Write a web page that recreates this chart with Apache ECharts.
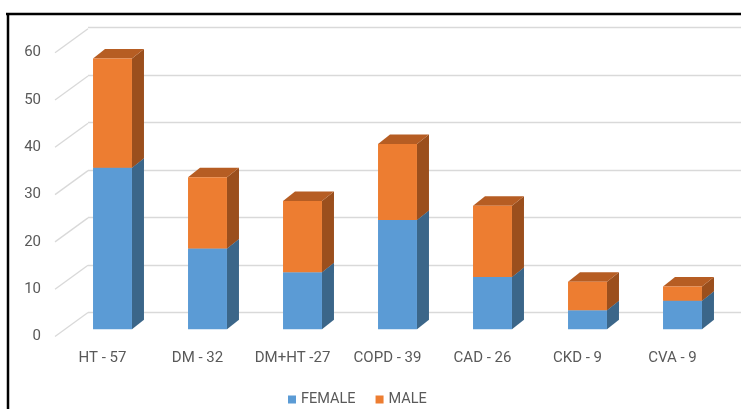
<!DOCTYPE html>
<html>
<head>
<meta charset="utf-8">
<script src="https://cdn.jsdelivr.net/npm/echarts@6/dist/echarts.min.js"></script>
<style>
  html, body { margin: 0; padding: 0; background: #ffffff; }
  #chart { width: 741px; height: 409px; }
</style>
</head>
<body>
<div id="chart"></div>
<script>
// Patient counts per comorbidity, split by sex
const categories = ['HT - 57', 'DM - 32', 'DM+HT -27', 'COPD - 39', 'CAD - 26', 'CKD - 9', 'CVA - 9'];
const female = [34, 17, 12, 23, 11, 4, 6];
const male = [23, 15, 15, 16, 15, 6, 3];
const seriesNames = ['FEMALE', 'MALE'];

// Value axis ticks
const yMin = 0;
const yMax = 60;
const yStep = 10;

// Box faces: front, side, top
const faceColors = {
  FEMALE: ['#5B9BD5', '#3B6689', '#4A80B2'],
  MALE: ['#ED7D31', '#9B4F1D', '#B65D23']
};
const DEPTH_X = 12;
const DEPTH_Y = -9.5;
const LABEL_COLOR = '#595959';
const FONT = 'Roboto, "Open Sans", sans-serif';

const tickValues = [];
for (let v = yMin; v <= yMax; v += yStep) tickValues.push(v);

function boxRenderer(name) {
  const [front, side, top] = faceColors[name];
  return function (params, api) {
    const i = api.value(0);
    const lo = api.value(1);
    const hi = api.value(2);
    const pLo = api.coord([i, lo]);
    const pHi = api.coord([i, hi]);
    const w = api.size([1, 0])[0] * 0.41;
    const x0 = pLo[0] - w / 2;
    const x1 = pLo[0] + w / 2;
    const yb = pLo[1];
    const yt = pHi[1];
    return {
      type: 'group',
      children: [
        {
          type: 'polygon',
          shape: { points: [[x1, yb], [x1 + DEPTH_X, yb + DEPTH_Y], [x1 + DEPTH_X, yt + DEPTH_Y], [x1, yt]] },
          style: { fill: side }
        },
        {
          type: 'polygon',
          shape: { points: [[x0, yt], [x0 + DEPTH_X, yt + DEPTH_Y], [x1 + DEPTH_X, yt + DEPTH_Y], [x1, yt]] },
          style: { fill: top }
        },
        {
          type: 'rect',
          shape: { x: x0, y: yt, width: w, height: yb - yt },
          style: { fill: front }
        }
      ]
    };
  };
}

// Diagonal side-wall gridlines running from the front edge to the back wall
function sideWallRenderer(params, api) {
  const v = api.value(0);
  const a = api.coord([0, v]);
  const b = api.coord([1, v]);
  return {
    type: 'line',
    shape: { x1: a[0], y1: a[1], x2: b[0], y2: a[1] - 24 },
    style: { stroke: '#D9D9D9', lineWidth: 1.3 }
  };
}

const femaleData = categories.map((c, i) => [i, 0, female[i]]);
const maleData = categories.map((c, i) => [i, female[i], female[i] + male[i]]);

const chart = echarts.init(document.getElementById('chart'), null, { renderer: 'canvas' });

chart.setOption({
  animation: false,
  backgroundColor: '#ffffff',
  grid: [
    // front edge of the side wall (value labels)
    { left: 55, width: 33, top: 52.7, bottom: 72.5 },
    // back wall
    { left: 88, right: 0, top: 27.7, bottom: 96.3 },
    // columns
    { left: 65, right: 11, top: 44.3, bottom: 79.7 }
  ],
  xAxis: [
    { gridIndex: 0, type: 'value', min: 0, max: 1, show: false },
    { gridIndex: 1, type: 'value', min: 0, max: 1, show: false },
    {
      gridIndex: 2,
      type: 'category',
      data: categories,
      axisLine: { show: false },
      axisTick: { show: false },
      axisLabel: {
        interval: 0,
        margin: 21,
        padding: [0, 20, 0, 0],
        color: LABEL_COLOR,
        fontSize: 15,
        fontFamily: FONT
      }
    }
  ],
  yAxis: [
    {
      gridIndex: 0,
      type: 'value',
      min: yMin,
      max: yMax,
      interval: yStep,
      axisLine: { show: false },
      axisTick: { show: false },
      splitLine: { show: false },
      axisLabel: { margin: 14, color: LABEL_COLOR, fontSize: 15, fontFamily: FONT }
    },
    {
      gridIndex: 1,
      type: 'value',
      min: yMin,
      max: yMax,
      interval: yStep,
      axisLine: { show: false },
      axisTick: { show: false },
      axisLabel: { show: false },
      splitLine: { lineStyle: { color: '#D9D9D9', width: 1.3 } }
    },
    {
      gridIndex: 2,
      type: 'value',
      min: yMin,
      max: yMax,
      interval: yStep,
      show: false,
      splitLine: { show: false }
    }
  ],
  legend: {
    left: 288,
    top: 392,
    padding: 0,
    itemWidth: 8,
    itemHeight: 8,
    itemGap: 20,
    textStyle: { color: LABEL_COLOR, fontSize: 14.5, fontFamily: FONT },
    data: seriesNames.map(n => ({ name: n, icon: 'rect' }))
  },
  graphic: [
    { type: 'line', shape: { x1: 6, y1: 14, x2: 741, y2: 14 }, style: { stroke: '#000000', lineWidth: 2.5 } },
    { type: 'line', shape: { x1: 8, y1: 13, x2: 8, y2: 409 }, style: { stroke: '#000000', lineWidth: 2.5 } }
  ],
  series: [
    {
      type: 'custom',
      name: 'wall',
      xAxisIndex: 0,
      yAxisIndex: 0,
      renderItem: sideWallRenderer,
      data: tickValues.map(v => [v]),
      encode: { y: 0 },
      silent: true,
      z: 1
    },
    {
      type: 'custom',
      name: seriesNames[0],
      xAxisIndex: 2,
      yAxisIndex: 2,
      renderItem: boxRenderer(seriesNames[0]),
      data: femaleData,
      encode: { x: 0, y: [1, 2] },
      itemStyle: { color: faceColors.FEMALE[0] },
      z: 3
    },
    {
      type: 'custom',
      name: seriesNames[1],
      xAxisIndex: 2,
      yAxisIndex: 2,
      renderItem: boxRenderer(seriesNames[1]),
      data: maleData,
      encode: { x: 0, y: [1, 2] },
      itemStyle: { color: faceColors.MALE[0] },
      z: 4
    }
  ]
});
</script>
</body>
</html>
